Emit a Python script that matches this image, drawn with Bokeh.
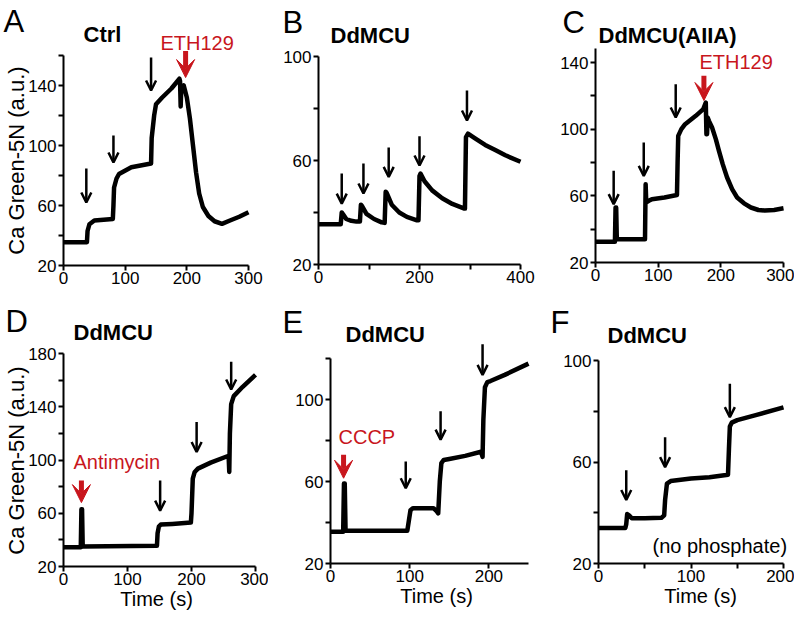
import math
from bokeh.plotting import figure
from bokeh.layouts import row, column
from bokeh.models import Range1d, FixedTicker, Label, Arrow, OpenHead, VeeHead, ColumnDataSource
from bokeh.embed import file_html
from bokeh.resources import INLINE

FONT = "Liberation Sans"
RED = "#c8161d"

# ---------------- data ----------------
A_t = [0, 38, 39, 42, 50, 80, 81, 82, 86, 90, 110, 142, 143, 147, 150, 160, 175, 188, 189, 190, 191, 195,
       200, 205, 210, 215, 220, 226, 235, 245, 257, 270, 285, 300]
A_v = [35.5, 35.5, 43, 47.5, 50, 51, 60, 72, 78, 81, 85.5, 88, 105, 120, 127.5, 132, 138, 144.5, 143, 126, 138, 140,
       132, 118, 100, 82, 68, 59, 53, 49.5, 47.8, 50, 52.5, 55.5]
A_arrow_x = [37, 81, 142]
A_arrow_top = [84.7, 106.7, 158.7]
A_arrow_tip = [62, 88.7, 136.7]
A_red_x = [198]
A_red_top = [163]
A_red_tip = [145.3]

B_t = [0, 44, 46, 48, 55, 65, 75, 82, 84, 86, 95, 110, 125, 131, 133, 135, 145, 160, 175, 195, 198, 200, 202,
       210, 225, 245, 265, 289, 290, 292, 296, 310, 330, 350, 370, 400]
B_v = [35.5, 35.5, 40, 39.5, 37.5, 36.8, 36.5, 36.5, 43, 42.5, 39.5, 37.5, 36.2, 36, 48, 47.5, 43, 40, 38.3, 37, 37,
       54, 55, 52, 48.5, 45.5, 43.3, 41.5, 41.5, 69, 70.3, 68.5, 66, 64, 62, 59.5]
B_arrow_x = [46, 89, 139, 200, 294]
B_arrow_top = [55, 58.8, 65, 69.3, 86.9]
B_arrow_tip = [43.4, 47.3, 53.7, 58.1, 75.4]

C_t = [0, 31, 32, 33, 34, 78, 79, 80, 81, 85, 90, 110, 130, 131, 132, 137, 143, 160, 172, 176, 177, 178, 179,
       181, 186, 192, 197, 203, 210, 218, 226, 237, 248, 260, 270, 285, 300]
C_v = [32.5, 32.5, 53, 53, 34, 34, 34, 67, 56, 57, 58, 59, 60.5, 80, 96, 100, 103, 108, 112, 116, 97, 97, 107,
       105, 101, 94, 87, 79, 71, 64, 59, 55.5, 53, 51.5, 51.2, 51.5, 52.5]
C_arrow_x = [29, 77, 128]
C_arrow_top = [75, 92, 127]
C_arrow_tip = [55, 72, 107]
C_red_x = [173]
C_red_top = [132]
C_red_tip = [117.2]

D_t = [0, 27, 28, 29, 30, 146, 147, 149, 152, 170, 199, 200, 202, 205, 210, 230, 257, 258, 259, 260, 262, 266, 280, 300]
D_v = [34.5, 34.5, 63, 63, 35, 35.5, 45, 50, 51.5, 52, 53, 60, 86, 91, 93.5, 98, 103, 103, 91, 120, 142, 148, 155, 164]
D_arrow_x = [151, 208, 262]
D_arrow_top = [84.6, 128.5, 173.8]
D_arrow_tip = [62, 106, 153]
D_red_x = [28]
D_red_top = [84.6]
D_red_tip = [68]

E_t = [0, 16, 17, 18, 19, 97, 99, 101, 104, 130, 134, 136, 138, 140, 143, 150, 170, 190, 192, 193, 195, 198, 202, 220, 250]
E_v = [35.5, 35.5, 59, 59, 36, 36, 41, 46, 47, 47, 45.5, 44.5, 60, 69, 70.5, 71, 72.5, 74.5, 72, 90, 106, 108.5, 109, 112, 117.5]
E_arrow_x = [95, 139, 192]
E_arrow_top = [69.8, 94.3, 127]
E_arrow_tip = [56.7, 80.4, 112]
E_red_x = [16.5]
E_red_top = [73]
E_red_tip = [61.6]

F_t = [0, 29, 30, 31, 33, 36, 50, 68, 71, 72, 74, 78, 100, 120, 140, 141, 142, 144, 150, 170, 200]
F_v = [34, 34, 35.5, 39.5, 39, 37.8, 37.8, 38, 39, 45, 51.5, 52.5, 53.5, 54, 55, 65, 74, 75.5, 76.5, 78.5, 81.5]
F_arrow_x = [30, 72, 142]
F_arrow_top = [56.7, 69.8, 90.8]
F_arrow_tip = [45, 58, 77.7]

Y_LABEL = "Ca Green-5N (a.u.)"
X_LABEL = "Time (s)"


class Panel:
    """A figure whose plotting frame fills the canvas; the data area sits inside
    it at the given margins and the axes are drawn at the data area's edges."""

    def __init__(self, w, h, left, right, top, bottom, xr, yr, xt, xm, yt, ym):
        self.left, self.bottom = left, bottom
        fw, fh = w - left - right, h - top - bottom
        sx = (xr[1] - xr[0]) / fw
        sy = (yr[1] - yr[0]) / fh
        p = figure(width=w, height=h, min_border=0, min_border_left=0, min_border_right=0,
                   min_border_top=0, min_border_bottom=0,
                   x_range=Range1d(xr[0] - left * sx, xr[1] + right * sx),
                   y_range=Range1d(yr[0] - bottom * sy, yr[1] + top * sy),
                   output_backend="svg", toolbar_location=None, tools="")
        p.outline_line_color = None
        p.xgrid.visible = False
        p.ygrid.visible = False
        p.xaxis.ticker = FixedTicker(ticks=xt, minor_ticks=xm)
        p.yaxis.ticker = FixedTicker(ticks=yt, minor_ticks=ym)
        p.xaxis.fixed_location = yr[0]
        p.yaxis.fixed_location = xr[0]
        p.xaxis.bounds = xr
        p.yaxis.bounds = yr
        for ax in (p.xaxis, p.yaxis):
            ax.axis_line_width = 2
            ax.major_tick_line_width = 2
            ax.minor_tick_line_width = 2
            ax.major_tick_out = 5
            ax.major_tick_in = 0
            ax.minor_tick_out = 5
            ax.minor_tick_in = 0
            ax.major_label_text_font = FONT
            ax.major_label_text_font_size = "17px"
            ax.major_label_text_color = "black"
        p.xaxis.major_label_standoff = 1
        p.yaxis.major_label_standoff = 2
        self.p = p

    def label(self, x, y, text, size, bold=False, color="black", align="left"):
        # (x, y): left/centre and baseline of the text, relative to the data area's lower-left corner
        self.p.add_layout(Label(x=self.left + x, y=self.bottom + y + 0.35 * size,
                                x_units="screen", y_units="screen",
                                text=text, text_font=FONT, text_font_size=f"{size}px",
                                text_font_style="bold" if bold else "normal",
                                text_color=color, text_align=align, text_baseline="middle"))

    def vlabel(self, x, y, text, size):
        # vertical text centred on (x, y)
        self.p.add_layout(Label(x=self.left + x, y=self.bottom + y, x_units="screen", y_units="screen",
                                text=text, text_font=FONT, text_font_size=f"{size}px",
                                angle=math.pi / 2, text_align="center", text_baseline="middle",
                                text_color="black"))

    def trace(self, t, v):
        self.p.line(t, v, line_color="black", line_width=4.5, line_join="round")

    def arrows(self, xs, tops, tips):
        src = ColumnDataSource(dict(x=xs, top=tops, tip=tips))
        self.p.add_layout(Arrow(end=OpenHead(size=10, line_width=2.5, line_color="black"),
                                x_start="x", y_start="top", x_end="x", y_end="tip", source=src,
                                line_width=2.5, line_color="black"))

    def red_arrows(self, xs, tops, tips):
        src = ColumnDataSource(dict(x=xs, top=tops, tip=tips))
        self.p.add_layout(Arrow(end=VeeHead(size=18, fill_color=RED, line_color=RED, line_width=1),
                                x_start="x", y_start="top", x_end="x", y_end="tip", source=src,
                                line_width=5, line_color=RED))


# ---------------- panel A ----------------
A = Panel(268, 300, 63, 20, 55, 35, (0, 300), (20, 160), [0, 100, 200, 300], [],
          [20, 60, 100, 140], [40, 80, 120, 160])
A.trace(A_t, A_v)
A.arrows(A_arrow_x, A_arrow_top, A_arrow_tip)
A.red_arrows(A_red_x, A_red_top, A_red_tip)
A.label(-60, 233, "A", 31)
A.label(20, 223, "Ctrl", 22, bold=True)
A.label(97, 216, "ETH129", 20, color=RED)
A.vlabel(-47, 105, Y_LABEL, 22)

# ---------------- panel B ----------------
B = Panel(270, 300, 50, 18, 56, 36, (0, 400), (20, 100), [0, 200, 400], [100, 300],
          [20, 60, 100], [40, 80])
B.trace(B_t, B_v)
B.arrows(B_arrow_x, B_arrow_top, B_arrow_tip)
B.label(-36, 231, "B", 31)
B.label(12, 221, "DdMCU", 22, bold=True)

# ---------------- panel C ----------------
C = Panel(256, 300, 57, 11, 48, 38, (0, 300), (20, 148.4), [0, 100, 200, 300], [],
          [20, 60, 100, 140], [40, 80, 120])
C.trace(C_t, C_v)
C.arrows(C_arrow_x, C_arrow_top, C_arrow_tip)
C.red_arrows(C_red_x, C_red_top, C_red_tip)
C.label(-33, 229, "C", 31)
C.label(3, 219, "DdMCU(AIIA)", 22, bold=True)
C.label(104, 194, "ETH129", 20, color=RED)

# ---------------- panel D ----------------
D = Panel(268, 315, 63, 13, 53, 49, (0, 300), (20, 180), [0, 100, 200, 300], [],
          [20, 60, 100, 140, 180], [40, 80, 120, 160])
D.trace(D_t, D_v)
D.arrows(D_arrow_x, D_arrow_top, D_arrow_tip)
D.red_arrows(D_red_x, D_red_top, D_red_tip)
D.label(-58, 234, "D", 31)
D.label(10, 226, "DdMCU", 22, bold=True)
D.label(10, 98, "Antimycin", 20, color=RED)
D.vlabel(-47, 106, Y_LABEL, 22)
D.label(93, -39, X_LABEL, 20, align="center")

# ---------------- panel E ----------------
E = Panel(270, 315, 62, 10, 58, 52, (0, 250), (20, 120), [0, 100, 200], [],
          [20, 60, 100], [40, 80, 120])
E.trace(E_t, E_v)
E.arrows(E_arrow_x, E_arrow_top, E_arrow_tip)
E.red_arrows(E_red_x, E_red_top, E_red_tip)
E.label(-48, 230, "E", 31)
E.label(15, 221, "DdMCU", 22, bold=True)
E.label(8, 120, "CCCP", 20, color=RED)
E.label(106, -39, X_LABEL, 20, align="center")

# ---------------- panel F ----------------
F = Panel(256, 315, 60, 11, 60, 52, (0, 200), (20, 100), [0, 100, 200], [50, 150],
          [20, 60, 100], [40, 80])
F.trace(F_t, F_v)
F.arrows(F_arrow_x, F_arrow_top, F_arrow_tip)
F.label(-48, 230, "F", 31)
F.label(9, 220, "DdMCU", 22, bold=True)
F.label(54, 11, "(no phosphate)", 20)
F.label(102, -39, X_LABEL, 20, align="center")

layout = column(row(A.p, B.p, C.p), row(D.p, E.p, F.p))

with open("out.html", "w") as f:
    f.write(file_html(layout, INLINE))
